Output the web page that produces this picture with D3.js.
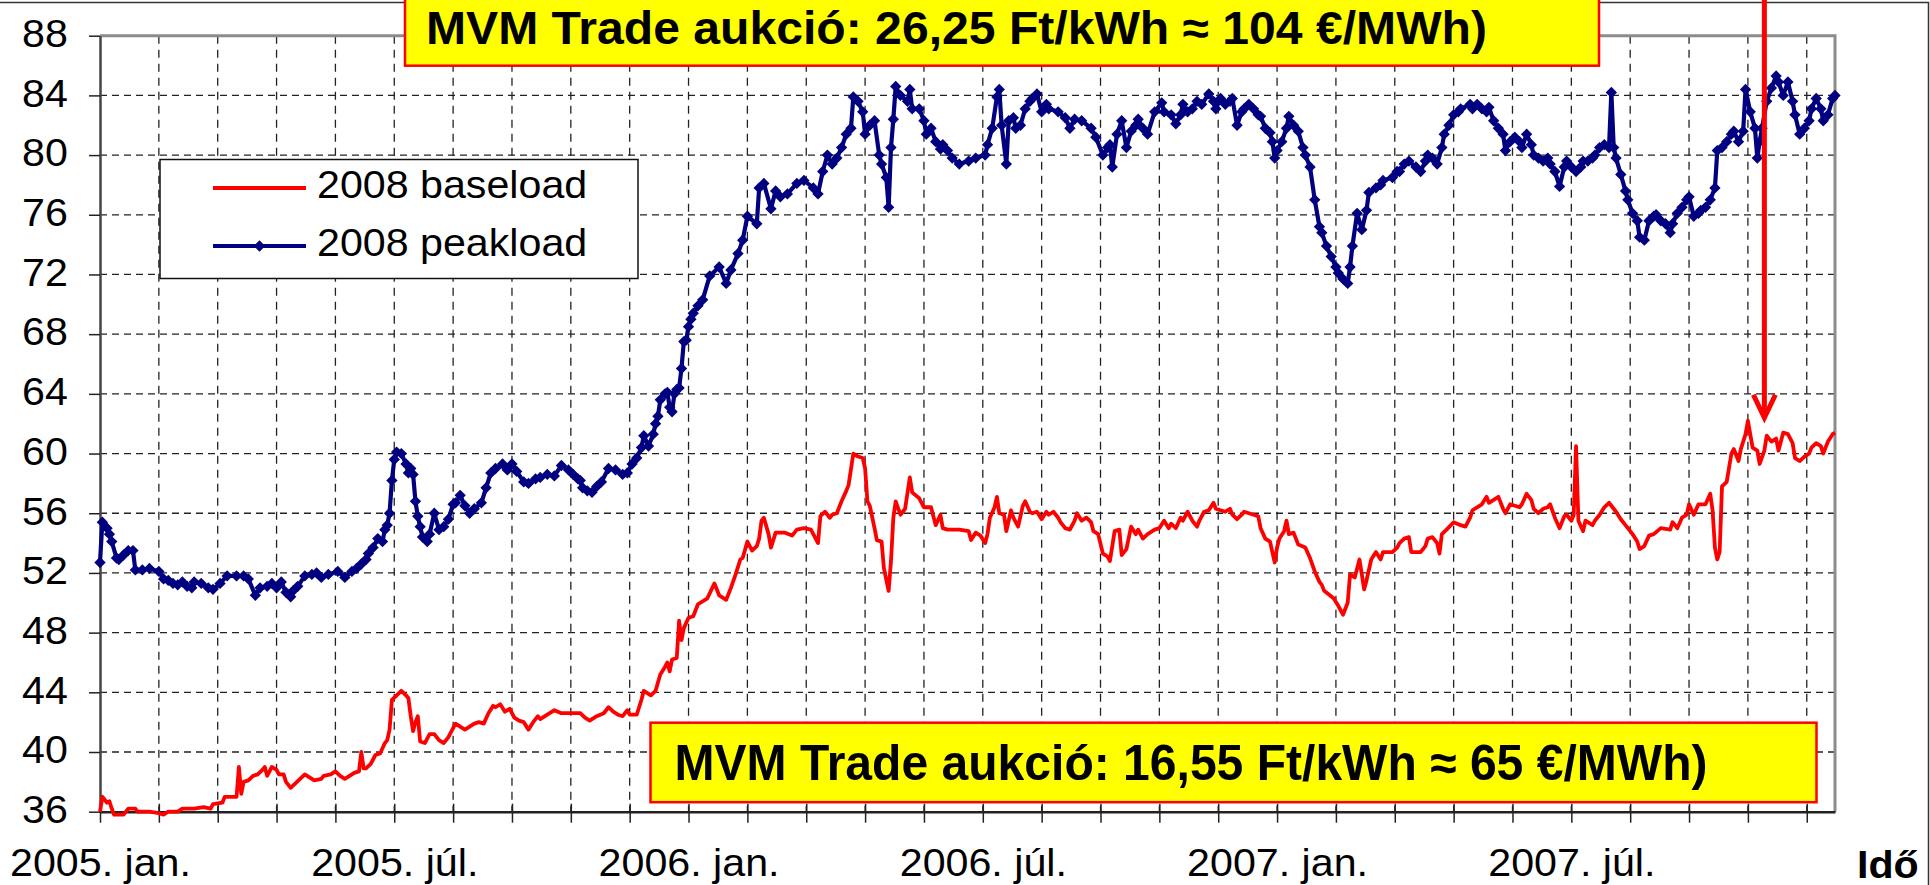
<!DOCTYPE html>
<html>
<head>
<meta charset="utf-8">
<script src="https://cdn.jsdelivr.net/npm/d3@7"></script>
<style>
  body { margin: 0; background: #fff; }
  svg { display: block; font-family: "Liberation Sans", Arial, sans-serif; }
</style>
</head>
<body>
<div id="chart"></div>
<script>
// --- ADATOK ---
// x = kereskedési nap sorszáma (2005 jan. eleje = 0), y = ár (€/MWh)
const tickLabels = ["2005. jan.", "2005. júl.", "2006. jan.", "2006. júl.", "2007. jan.", "2007. júl."];
const yTicks = [36, 40, 44, 48, 52, 56, 60, 64, 68, 72, 76, 80, 84, 88];
const seriesNames = ["2008 baseload", "2008 peakload"];
const boxTexts = ["MVM Trade aukció: 26,25 Ft/kWh ≈ 104 €/MWh)", "MVM Trade aukció: 16,55 Ft/kWh ≈ 65 €/MWh)"];
const axisTitle = "Idő";
const auction = { day: 707, value: 62.4 };

const baseload = [
  [0,36.0],[1,37.0],[3,36.6],[4,36.7],[5,36.2],[6,35.8],[10,35.8],[12,36.2],[15,36.2],[16,36.0],
  [21,36.0],[25,35.9],[27,35.8],[29,36.0],[33,36.0],[35,36.2],[40,36.2],[44,36.3],[47,36.2],[48,36.5],
  [52,36.6],[53,37.0],[58,37.0],[59,39.0],[60,37.2],[61,38.0],[63,38.1],[65,38.4],[67,38.5],[69,38.8],
  [70,39.0],[71,38.4],[73,39.0],[75,38.8],[76,38.5],[78,38.5],[79,38.0],[81,37.6],[83,37.9],[85,38.2],
  [87,38.5],[89,38.3],[91,38.1],[94,38.2],[95,38.4],[98,38.5],[100,38.7],[102,38.4],[104,38.2],[106,38.4],
  [108,38.6],[110,38.7],[111,40.0],[112,38.9],[113,38.9],[115,39.2],[117,39.8],[119,39.9],[121,40.6],[122,40.8],
  [123,41.5],[124,43.5],[126,43.8],[128,44.1],[130,43.8],[131,43.6],[132,42.4],[133,41.4],[134,42.0],[135,42.4],
  [136,40.7],[138,40.6],[140,41.2],[142,41.2],[144,40.8],[146,40.6],[148,41.0],[150,41.6],[151,41.9],[153,41.7],
  [155,41.5],[157,41.7],[159,41.9],[161,42.0],[163,41.9],[165,42.6],[167,43.1],[168,43.0],[170,43.2],[172,42.7],
  [174,42.9],[176,42.3],[178,42.1],[180,42.0],[182,41.5],[184,42.0],[186,42.4],[187,42.2],[190,42.5],[193,42.8],
  [196,42.6],[200,42.6],[204,42.6],[206,42.3],[208,42.1],[211,42.4],[214,42.6],[216,43.0],[218,42.7],[220,42.5],
  [222,42.4],[224,42.8],[225,42.5],[228,42.5],[230,43.5],[231,44.1],[234,43.8],[236,44.1],[238,45.2],[240,45.7],
  [241,46.0],[242,45.4],[243,46.2],[245,46.3],[246,48.8],[247,47.5],[248,48.3],[250,49.0],[252,49.1],[254,49.9],
  [258,50.3],[261,51.3],[263,50.5],[266,50.2],[268,51.0],[270,51.9],[272,52.9],[273,53.0],[275,54.1],[277,53.5],
  [279,53.8],[280,54.3],[281,55.5],[282,55.7],[284,54.6],[285,53.7],[287,54.7],[291,54.7],[294,54.5],[296,54.9],
  [299,55.0],[302,54.9],[305,54.0],[306,55.8],[308,56.1],[310,55.7],[311,55.9],[313,56.0],[315,56.8],[317,57.5],
  [318,57.9],[320,60.0],[322,59.8],[324,59.7],[325,59.0],[326,56.8],[327,56.5],[329,55.0],[330,54.2],[332,54.1],
  [333,52.3],[335,50.8],[336,52.8],[337,55.7],[338,56.8],[340,55.9],[342,56.3],[344,58.4],[345,57.4],[348,57.0],
  [350,56.4],[353,56.4],[355,55.2],[357,55.9],[358,55.0],[360,54.9],[365,54.9],[369,54.8],[370,54.2],[372,54.7],
  [374,54.5],[376,54.0],[377,54.6],[378,55.7],[380,56.4],[381,57.1],[382,56.0],[384,55.9],[385,54.8],[387,56.2],
  [388,55.7],[390,55.1],[392,56.5],[393,56.8],[395,56.1],[396,56.0],[398,56.1],[400,55.6],[402,56.1],[403,55.9],
  [405,56.1],[407,55.7],[408,55.4],[410,55.0],[412,54.9],[414,55.5],[415,56.0],[417,55.5],[419,55.7],[421,55.4],
  [422,54.8],[424,54.6],[426,53.3],[428,53.1],[429,52.8],[431,54.8],[433,54.9],[434,53.2],[436,53.6],[438,55.1],
  [440,54.6],[441,54.9],[443,54.3],[445,54.6],[448,54.9],[450,55.0],[452,55.5],[454,55.0],[455,55.3],[457,55.0],
  [459,55.7],[460,55.5],[462,56.1],[464,55.5],[466,55.1],[467,55.5],[469,56.1],[471,56.2],[473,56.7],[474,56.3],
  [478,56.1],[480,56.3],[481,55.9],[483,55.6],[485,55.9],[486,56.1],[490,55.9],[492,55.8],[493,55.0],[495,54.3],
  [497,54.1],[499,52.7],[500,53.7],[501,54.3],[503,54.8],[504,55.5],[505,54.6],[507,54.7],[509,53.9],[512,53.7],
  [514,53.0],[516,52.1],[518,51.4],[519,51.2],[520,50.8],[524,50.3],[526,49.8],[528,49.2],[530,50.0],[531,51.9],
  [533,51.7],[535,52.9],[537,50.9],[538,51.5],[540,52.9],[542,53.4],[544,52.9],[545,53.4],[549,53.4],[551,53.7],
  [552,54.0],[554,54.3],[556,54.4],[557,53.4],[561,53.4],[563,53.8],[564,54.3],[566,54.4],[568,54.0],[569,53.3],
  [570,54.6],[572,54.9],[575,55.4],[578,55.2],[580,55.1],[582,55.7],[583,56.2],[587,56.6],[589,57.1],[590,56.7],
  [594,57.1],[596,56.3],[597,56.0],[599,56.6],[603,56.4],[604,56.6],[606,57.3],[608,56.9],[609,56.3],[611,56.0],
  [613,56.3],[615,56.4],[616,56.6],[618,55.7],[620,55.0],[622,55.8],[623,55.9],[625,55.5],[626,55.9],[627,60.5],
  [628,55.5],[630,54.8],[631,55.5],[634,55.2],[635,55.5],[637,55.9],[639,56.4],[641,56.7],[642,56.5],[644,56.1],
  [646,55.6],[648,55.2],[649,55.0],[651,54.6],[653,54.1],[654,53.6],[656,53.8],[658,54.5],[660,54.6],[663,55.0],
  [667,54.9],[668,55.4],[670,55.0],[672,55.7],[674,55.9],[675,56.6],[677,55.9],[679,56.6],[682,56.6],[684,57.3],
  [685,56.2],[686,53.7],[687,52.9],[688,53.4],[689,57.8],[691,58.1],[693,60.0],[694,60.3],[696,59.5],[697,60.3],
  [699,61.3],[700,62.2],[702,60.4],[704,60.2],[705,59.3],[707,60.2],[708,61.2],[710,60.8],[712,61.0],[713,60.2],
  [715,61.4],[717,61.3],[719,60.7],[720,59.7],[722,59.5],[724,59.8],[726,60.0],[727,60.4],[729,60.7],[731,60.5],
  [732,60.0],[734,60.8],[736,61.3],[737,61.4]
];

const peakload = [
  [0,52.7],[1,55.4],[3,55.0],[4,54.6],[5,54.1],[7,53.0],[8,52.9],[10,53.2],[12,53.5],[14,53.5],
  [15,52.2],[18,52.2],[21,52.3],[25,52.1],[27,51.6],[29,51.5],[31,51.3],[33,51.2],[35,51.4],[37,51.1],
  [39,51.0],[40,51.4],[43,51.3],[46,51.0],[48,50.9],[51,51.3],[54,51.8],[58,51.8],[61,51.8],[63,51.6],
  [66,50.5],[68,51.0],[71,51.1],[73,51.3],[75,51.0],[77,51.4],[79,50.7],[81,50.4],[82,50.8],[84,51.1],
  [87,51.8],[90,51.9],[92,52.0],[94,51.7],[97,51.9],[101,52.1],[104,51.7],[107,52.1],[109,52.3],[111,52.6],
  [113,52.9],[114,53.3],[116,53.7],[118,54.3],[120,54.1],[121,54.9],[122,55.2],[123,56.0],[124,58.2],[125,59.6],
  [126,60.1],[128,60.0],[130,59.3],[131,58.7],[132,59.0],[133,58.6],[134,56.8],[135,55.8],[136,55.1],[137,54.4],
  [139,54.1],[140,54.6],[142,56.0],[144,54.9],[146,55.1],[148,55.6],[150,56.6],[151,56.7],[153,57.2],[155,56.5],
  [157,56.0],[159,56.3],[162,56.7],[164,57.7],[166,58.7],[168,59.0],[171,59.3],[173,58.9],[175,59.3],[177,58.8],
  [180,58.1],[182,58.0],[185,58.3],[187,58.4],[190,58.6],[193,58.5],[196,59.2],[199,58.9],[201,58.6],[203,58.3],
  [204,58.2],[205,57.7],[207,57.5],[209,57.4],[211,57.8],[213,58.1],[216,59.0],[219,58.9],[222,58.6],[224,58.7],
  [226,59.3],[228,59.7],[230,60.4],[231,61.2],[233,60.5],[235,61.3],[236,62.0],[237,62.5],[238,63.6],[240,64.0],
  [241,64.1],[242,63.1],[243,62.8],[244,64.0],[245,64.3],[246,64.4],[247,65.7],[248,67.5],[249,67.6],[250,68.5],
  [251,69.0],[252,69.4],[254,69.9],[256,70.3],[259,71.9],[263,72.5],[266,71.4],[268,72.3],[271,73.4],[273,74.3],
  [275,75.9],[279,75.4],[280,77.8],[282,78.1],[285,76.4],[287,77.6],[289,77.2],[292,77.4],[296,78.1],[299,78.3],
  [303,77.8],[305,77.4],[307,78.9],[309,80.0],[311,79.4],[313,79.8],[315,80.5],[317,81.4],[319,81.8],[320,83.9],
  [322,83.6],[324,82.9],[325,81.4],[327,82.0],[329,82.3],[331,80.0],[332,79.4],[334,78.5],[335,76.5],[336,80.5],
  [337,82.4],[338,84.6],[340,84.0],[343,83.6],[344,84.4],[345,83.1],[348,83.1],[350,82.3],[351,81.4],[353,81.8],
  [355,80.9],[357,80.4],[358,80.7],[360,80.3],[362,79.8],[365,79.4],[369,79.6],[372,79.8],[376,80.0],[377,80.7],
  [379,81.8],[381,83.9],[382,84.4],[383,82.0],[385,79.4],[386,82.3],[388,82.5],[389,81.8],[391,82.0],[393,83.1],
  [395,83.6],[396,83.8],[398,84.1],[400,82.9],[402,83.4],[403,83.1],[407,82.9],[410,82.5],[412,81.8],[414,82.4],
  [417,82.3],[421,81.8],[423,81.2],[426,80.0],[428,80.5],[429,80.7],[430,79.2],[432,81.4],[434,82.3],[436,80.5],
  [438,81.6],[440,82.0],[441,82.4],[443,81.8],[445,81.4],[448,82.9],[451,83.5],[452,82.9],[455,82.7],[457,82.1],
  [459,82.7],[460,83.4],[462,82.9],[464,83.1],[466,83.6],[468,83.4],[471,84.1],[473,83.6],[474,83.1],[476,83.8],
  [478,83.4],[480,83.6],[481,83.8],[483,82.0],[485,82.9],[486,83.1],[488,83.4],[490,83.1],[492,82.7],[493,82.6],
  [495,81.8],[497,81.5],[498,80.9],[499,79.8],[500,80.3],[502,80.9],[504,81.8],[505,82.6],[507,82.0],[509,81.6],
  [511,80.5],[512,80.0],[514,79.2],[516,77.0],[518,75.2],[519,74.8],[521,73.9],[523,73.2],[525,72.5],[526,72.1],
  [528,71.7],[530,71.4],[531,72.5],[532,73.9],[534,76.1],[536,75.0],[538,76.3],[539,77.5],[542,77.8],[544,78.0],
  [545,78.3],[549,78.5],[551,78.9],[552,78.9],[554,79.4],[556,79.6],[559,79.2],[561,78.9],[563,79.6],[564,80.0],
  [566,79.8],[568,79.4],[570,80.5],[571,81.4],[573,82.0],[575,82.7],[577,82.9],[578,83.1],[582,83.4],[583,83.1],
  [585,83.4],[587,83.1],[589,82.9],[590,83.2],[592,82.3],[594,81.8],[596,81.4],[597,80.3],[599,80.9],[601,81.2],
  [603,80.9],[604,80.5],[606,81.4],[608,80.7],[609,80.0],[611,79.8],[613,79.6],[615,79.8],[616,79.4],[618,78.9],
  [620,77.9],[622,79.2],[623,79.6],[625,79.2],[627,78.9],[629,79.2],[630,79.6],[632,79.6],[634,79.8],[635,80.0],
  [637,80.5],[639,80.7],[641,80.5],[642,84.2],[643,80.5],[644,79.8],[646,78.7],[648,77.6],[649,77.0],[651,76.1],
  [653,75.6],[654,74.5],[656,74.3],[658,75.6],[660,75.9],[661,76.0],[663,75.6],[665,75.4],[667,74.8],[668,75.4],
  [670,76.1],[672,76.5],[674,77.0],[675,77.2],[677,75.9],[679,76.1],[680,76.3],[682,76.5],[684,77.0],[686,77.8],
  [687,80.3],[689,80.5],[691,80.9],[693,81.4],[694,81.6],[696,80.9],[698,81.6],[699,84.4],[701,82.9],[703,81.8],
  [704,79.8],[705,80.9],[706,81.8],[708,83.6],[710,84.5],[712,85.3],[713,84.9],[715,84.0],[717,84.9],[719,83.6],
  [720,82.7],[722,81.4],[724,81.8],[726,82.3],[727,83.1],[729,83.8],[731,83.1],[732,82.3],[734,82.7],[736,83.8],
  [737,84.0]
];

// --- MÉRETEK ---
const W = 1930, H = 885;
const plot = { left: 100, right: 1835, top: 35.7, bottom: 811.7 };
const fontStretch = "scale(1.07,1)";

const svg = d3.select("#chart").append("svg")
    .attr("width", W)
    .attr("height", H);

const x = d3.scaleLinear().domain([0, 737]).range([plot.left, plot.right]);
const y = d3.scaleLinear().domain([36, 88]).range([plot.bottom, plot.top]);
const xTickDays = d3.range(0, 737, 25);

// keret fent és jobbra
svg.append("path")
    .attr("d", `M0,2.5H${W - 1.5}V${H}`)
    .attr("fill", "none")
    .attr("stroke", "#333")
    .attr("stroke-width", 1.5);

// --- RÁCS ---
svg.append("g").selectAll("line")
    .data(yTicks.filter(d => d > 36 && d < 88))
    .join("line")
    .attr("x1", plot.left).attr("x2", plot.right)
    .attr("y1", d => y(d)).attr("y2", d => y(d))
    .attr("stroke", "#222")
    .attr("stroke-width", 1.3)
    .attr("stroke-dasharray", "7,5");

svg.append("g").selectAll("line")
    .data(xTickDays.filter(d => d > 0))
    .join("line")
    .attr("x1", d => x(d)).attr("x2", d => x(d))
    .attr("y1", plot.top).attr("y2", plot.bottom)
    .attr("stroke", "#222")
    .attr("stroke-width", 1.3)
    .attr("stroke-dasharray", "8,6");

// rajzterület kerete (szürke)
svg.append("path")
    .attr("d", `M${plot.left},${plot.top}H${plot.right}V${plot.bottom}`)
    .attr("fill", "none")
    .attr("stroke", "#8c8c8c")
    .attr("stroke-width", 3);

// --- TENGELYEK ---
const xAxis = svg.append("g")
    .attr("transform", `translate(0,${plot.bottom})`)
    .call(d3.axisBottom(x)
        .tickValues(xTickDays)
        .tickSize(11)
        .tickSizeOuter(0)
        .tickFormat(d => d % 125 === 0 ? tickLabels[d / 125] : ""));

xAxis.select(".domain").attr("stroke", "#222").attr("stroke-width", 2.5);
xAxis.selectAll(".tick line").attr("y1", -8).attr("stroke", "#222").attr("stroke-width", 1.5);
xAxis.selectAll(".tick text")
    .attr("y", 64).attr("dy", null)
    .attr("fill", "#000")
    .style("font-size", "38.5px")
    .attr("transform", fontStretch);

const yAxis = svg.append("g")
    .attr("transform", `translate(${plot.left},0)`)
    .call(d3.axisLeft(y)
        .tickValues(yTicks)
        .tickSize(11)
        .tickSizeOuter(0)
        .tickPadding(19)
        .tickFormat(d3.format("d")));

yAxis.select(".domain").attr("stroke", "#444").attr("stroke-width", 2.5);
yAxis.selectAll(".tick line").attr("stroke", "#222").attr("stroke-width", 1.5);
yAxis.selectAll(".tick text")
    .attr("dy", "0.28em")
    .attr("fill", "#000")
    .style("font-size", "38.5px")
    .attr("transform", fontStretch);

// --- ADATSOROK ---
const line = d3.line()
    .x(d => x(d[0]))
    .y(d => y(d[1]));

svg.append("path")
    .datum(baseload)
    .attr("d", line)
    .attr("fill", "none")
    .attr("stroke", "#ff0000")
    .attr("stroke-width", 3.8)
    .attr("stroke-linejoin", "round");

svg.append("path")
    .datum(peakload)
    .attr("d", line)
    .attr("fill", "none")
    .attr("stroke", "#000080")
    .attr("stroke-width", 4.2)
    .attr("stroke-linejoin", "round");

const diamond = d3.symbol().type(d3.symbolSquare).size(64);

svg.append("g").selectAll("path")
    .data(peakload)
    .join("path")
    .attr("d", diamond)
    .attr("transform", d => `translate(${x(d[0])},${y(d[1])}) rotate(45)`)
    .attr("fill", "#000080");

// --- NYÍL (aukció) ---
const ax = x(auction.day), ay = y(auction.value);
svg.append("line")
    .attr("x1", ax).attr("x2", ax)
    .attr("y1", 0).attr("y2", ay - 2)
    .attr("stroke", "#ff0000")
    .attr("stroke-width", 5);

svg.append("path")
    .attr("d", `M${ax - 11},${ay - 23}L${ax},${ay}L${ax + 11},${ay - 23}`)
    .attr("fill", "none")
    .attr("stroke", "#ff0000")
    .attr("stroke-width", 5)
    .attr("stroke-linejoin", "miter");

// --- JELMAGYARÁZAT ---
const legend = svg.append("g");
legend.append("rect")
    .attr("x", 160).attr("y", 159.5)
    .attr("width", 478).attr("height", 119)
    .attr("fill", "#fff")
    .attr("stroke", "#111")
    .attr("stroke-width", 1.5);

const legendColors = ["#ff0000", "#000080"];
const legendRows = [188, 246];

seriesNames.forEach((name, i) => {
    legend.append("line")
        .attr("x1", 213).attr("x2", 306)
        .attr("y1", legendRows[i]).attr("y2", legendRows[i])
        .attr("stroke", legendColors[i])
        .attr("stroke-width", i === 0 ? 3.8 : 4.2);
    if (i === 1) {
        legend.append("path")
            .attr("d", diamond)
            .attr("transform", `translate(259.5,${legendRows[i]}) rotate(45)`)
            .attr("fill", legendColors[i]);
    }
    legend.append("text")
        .attr("transform", `translate(317,${legendRows[i] + 9.5}) ${fontStretch}`)
        .style("font-size", "38.5px")
        .attr("fill", "#000")
        .text(name);
});

// --- SÁRGA DOBOZOK ---
const boxes = [
    { x: 405, y: -10, w: 1194, h: 75.7, tx: 426, ty: 43.5, size: 46, len: 1061 },
    { x: 650.5, y: 722.7, w: 1166, h: 79.5, tx: 674.5, ty: 780, size: 50, len: 1033 }
];

boxes.forEach((b, i) => {
    svg.append("rect")
        .attr("x", b.x).attr("y", b.y)
        .attr("width", b.w).attr("height", b.h)
        .attr("fill", "#ffff00")
        .attr("stroke", "#ff0000")
        .attr("stroke-width", 2.5);
    svg.append("text")
        .attr("x", b.tx).attr("y", b.ty)
        .attr("textLength", b.len)
        .attr("lengthAdjust", "spacingAndGlyphs")
        .style("font-family", '"Liberation Sans Narrow", "Arial Narrow", "Liberation Sans", sans-serif')
        .style("font-weight", "bold")
        .style("font-size", b.size + "px")
        .attr("fill", "#000")
        .text(boxTexts[i]);
});

// tengelycím
svg.append("text")
    .attr("transform", `translate(1857,878) ${fontStretch}`)
    .style("font-size", "38.5px")
    .style("font-weight", "bold")
    .attr("fill", "#000")
    .text(axisTitle);
</script>
</body>
</html>
